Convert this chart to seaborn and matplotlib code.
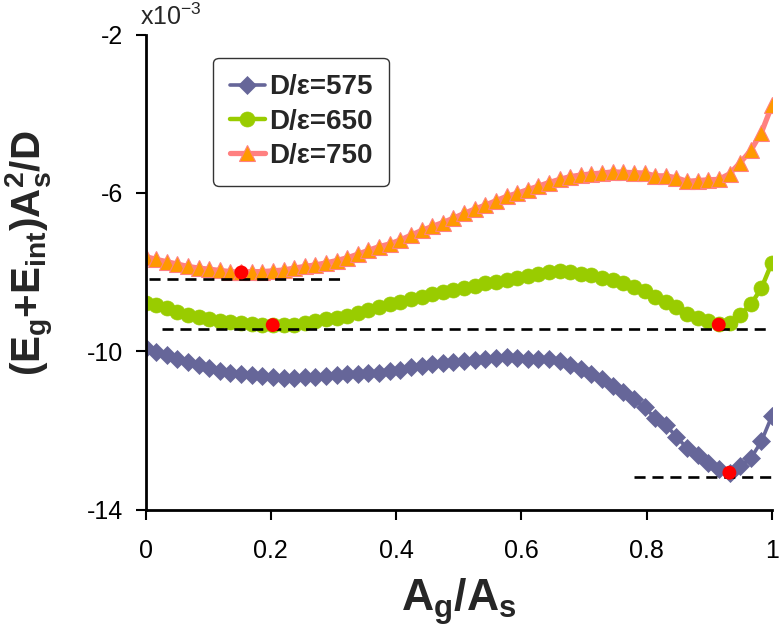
import matplotlib
matplotlib.use("Agg")
import matplotlib.pyplot as plt
import seaborn as sns

# ---------------- data (energies in units of 1e-3) ----------------
area_ratio = [i / 59 for i in range(60)]

energy_575 = [-9.93, -10.01, -10.09, -10.19, -10.28, -10.36, -10.43, -10.50, -10.55, -10.58,
              -10.61, -10.63, -10.66, -10.68, -10.68, -10.66, -10.64, -10.62, -10.60, -10.58,
              -10.58, -10.56, -10.54, -10.51, -10.47, -10.41, -10.37, -10.33, -10.30, -10.27,
              -10.24, -10.22, -10.19, -10.17, -10.14, -10.18, -10.19, -10.19, -10.21, -10.25,
              -10.34, -10.46, -10.58, -10.70, -10.88, -11.04, -11.22, -11.42, -11.69, -11.86,
              -12.16, -12.45, -12.62, -12.82, -12.97, -13.08, -12.91, -12.71, -12.28, -11.63]

energy_650 = [-8.79, -8.84, -8.91, -9.00, -9.08, -9.14, -9.19, -9.23, -9.27, -9.29,
              -9.31, -9.33, -9.34, -9.35, -9.33, -9.29, -9.24, -9.19, -9.15, -9.10,
              -9.04, -8.97, -8.89, -8.82, -8.76, -8.69, -8.63, -8.56, -8.51, -8.45,
              -8.40, -8.35, -8.29, -8.25, -8.19, -8.14, -8.09, -8.05, -8.01, -7.98,
              -7.99, -8.04, -8.08, -8.14, -8.19, -8.27, -8.37, -8.49, -8.63, -8.75,
              -8.88, -9.05, -9.17, -9.25, -9.32, -9.28, -9.09, -8.82, -8.41, -7.76]

energy_750 = [-7.61, -7.68, -7.74, -7.80, -7.86, -7.90, -7.93, -7.96, -7.99, -8.00,
              -7.99, -7.99, -7.97, -7.95, -7.90, -7.86, -7.82, -7.77, -7.71, -7.64,
              -7.55, -7.45, -7.36, -7.29, -7.19, -7.07, -6.95, -6.85, -6.75, -6.64,
              -6.52, -6.41, -6.31, -6.20, -6.09, -6.01, -5.92, -5.83, -5.74, -5.66,
              -5.59, -5.55, -5.52, -5.50, -5.47, -5.48, -5.49, -5.50, -5.57, -5.57,
              -5.62, -5.71, -5.69, -5.67, -5.66, -5.52, -5.24, -4.93, -4.48, -3.79]

series_labels = ["D/\u03b5=575", "D/\u03b5=650", "D/\u03b5=750"]

# minima (red dots)
minima_x = [0.153, 0.203, 0.915, 0.932]
minima_y = [-8.01, -9.34, -9.33, -13.07]

# dashed reference levels
level_y = [-8.17, -9.45, -13.18]
level_x_start = [0.005, 0.027, 0.78]
level_x_end = [0.32, 1.0, 1.0]

x_ticks = [0, 0.2, 0.4, 0.6, 0.8, 1.0]
x_tick_labels = ["0", "0.2", "0.4", "0.6", "0.8", "1"]
y_ticks = [-14, -10, -6, -2]
y_tick_labels = ["-14", "-10", "-6", "-2"]

# ---------------- style ----------------
sns.set_style("ticks")
plt.rcParams["font.family"] = ["Liberation Sans", "DejaVu Sans"]
plt.rcParams["mathtext.default"] = "regular"
plt.rcParams["axes.unicode_minus"] = False

fig = plt.figure(figsize=(7.79, 6.32), dpi=100)
ax = fig.add_axes([0.1868, 0.1938, 0.8042, 0.7516])

styles = [
    dict(color="#666699", marker="D", markersize=9.0, markerfacecolor="#666699",
         markeredgecolor="#666699", markeredgewidth=0.5, linewidth=2.6),
    dict(color="#99CC00", marker="o", markersize=10.8, markerfacecolor="#99CC00",
         markeredgecolor="#99CC00", markeredgewidth=0.5, linewidth=3.2),
    dict(color="#FF8080", marker="^", markersize=11.5, markerfacecolor="#FF9900",
         markeredgecolor="#FF8080", markeredgewidth=0.8, linewidth=3.8),
]

for vals, lab, st in zip([energy_575, energy_650, energy_750], series_labels, styles):
    sns.lineplot(x=area_ratio, y=vals, ax=ax, label=lab, sort=False, **st)

for y0, xa, xb in zip(level_y, level_x_start, level_x_end):
    ax.plot([xa, xb], [y0, y0], color="black", linewidth=1.9,
            linestyle=(0, (4.2, 2.6)), zorder=4)

sns.scatterplot(x=minima_x, y=minima_y, ax=ax, color="#FF0000", s=100,
                edgecolor="none", zorder=5, legend=False)

ax.set_xlim(0, 1)
ax.set_ylim(-14, -2)
ax.set_xticks(x_ticks)
ax.set_xticklabels(x_tick_labels)
ax.set_yticks(y_ticks)
ax.set_yticklabels(y_tick_labels)
ax.tick_params(axis="both", direction="out", length=7, width=1.5, labelsize=18,
               colors="black")
ax.tick_params(axis="y", pad=9)
ax.tick_params(axis="x", pad=14)
sns.despine(ax=ax)
for sp in ["left", "bottom"]:
    ax.spines[sp].set_linewidth(2)
    ax.spines[sp].set_color("black")

ax.set_xlabel(r"$A_g/A_s$", fontsize=32, fontweight="bold", labelpad=10)
ax.set_ylabel(r"$(E_g$+$E_{int})A_s^2/D$", fontsize=29, fontweight="bold")
ax.yaxis.set_label_coords(-0.143, 0.54)

fig.text(140 / 779, 1 - 17 / 632, r"x10$^{-3}$", fontsize=18, ha="left", va="center")

leg = ax.legend(loc="upper left", bbox_to_anchor=(0.108, 0.951), borderaxespad=0,
                frameon=True, fancybox=True, edgecolor="black",
                prop={"weight": "bold", "size": 20}, handlelength=1.25,
                handletextpad=0.15, labelspacing=0.3, borderpad=0.6)
leg.get_frame().set_linewidth(1.0)

fig.savefig("out.png", dpi=100)
